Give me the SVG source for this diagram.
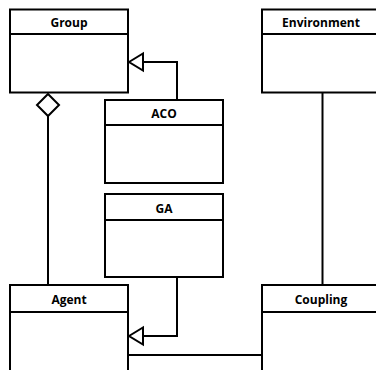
<svg xmlns="http://www.w3.org/2000/svg" width="376" height="370" viewBox="0 0 376 370">
<defs>
<style>
.box{fill:#fff;stroke:#000;stroke-width:2}
.hdr{stroke:#000;stroke-width:2}
.t{font-family:"Open Sans","Liberation Sans",sans-serif;font-weight:bold;font-size:12px;text-anchor:middle;fill:#000}
.c{fill:none;stroke:#000;stroke-width:2}
.tri{fill:#fff;stroke:#000;stroke-width:2}
</style>
</defs>
<rect width="376" height="370" fill="#fff"/>
<g id="connectors">
<polyline class="c" points="177,100 177,62 143,62"/>
<polygon class="tri" points="129,62 143,53.5 143,70.5"/>
<polyline class="c" points="177,277 177,336 143,336"/>
<polygon class="tri" points="129,336 143,327.5 143,344.5"/>
<line class="c" x1="48" y1="116" x2="48" y2="285"/>
<polygon class="tri" points="48,94 59,105 48,116 37,105"/>
<line class="c" x1="128" y1="355" x2="262" y2="355"/>
<line class="c" x1="322.5" y1="92" x2="322.5" y2="285"/>
</g>
<g id="Group">
<rect class="box" x="10" y="9.5" width="118" height="83"/>
<line class="hdr" x1="10" y1="34" x2="128" y2="34"/>
<text class="t" x="69" y="27">Group</text>
</g>
<g id="Environment">
<rect class="box" x="262" y="9.5" width="121" height="83"/>
<line class="hdr" x1="262" y1="34" x2="383" y2="34"/>
<text class="t" x="321" y="27">Environment</text>
</g>
<g id="ACO">
<rect class="box" x="105" y="100" width="118" height="83"/>
<line class="hdr" x1="105" y1="125" x2="223" y2="125"/>
<text class="t" x="164" y="118">ACO</text>
</g>
<g id="GA">
<rect class="box" x="105" y="194" width="118" height="83"/>
<line class="hdr" x1="105" y1="220" x2="223" y2="220"/>
<text class="t" x="164" y="213">GA</text>
</g>
<g id="Agent">
<rect class="box" x="10" y="285" width="118" height="100"/>
<line class="hdr" x1="10" y1="312" x2="128" y2="312"/>
<text class="t" x="69" y="304">Agent</text>
</g>
<g id="Coupling">
<rect class="box" x="262" y="285" width="121" height="100"/>
<line class="hdr" x1="262" y1="312" x2="383" y2="312"/>
<text class="t" x="321" y="304">Coupling</text>
</g>
</svg>
